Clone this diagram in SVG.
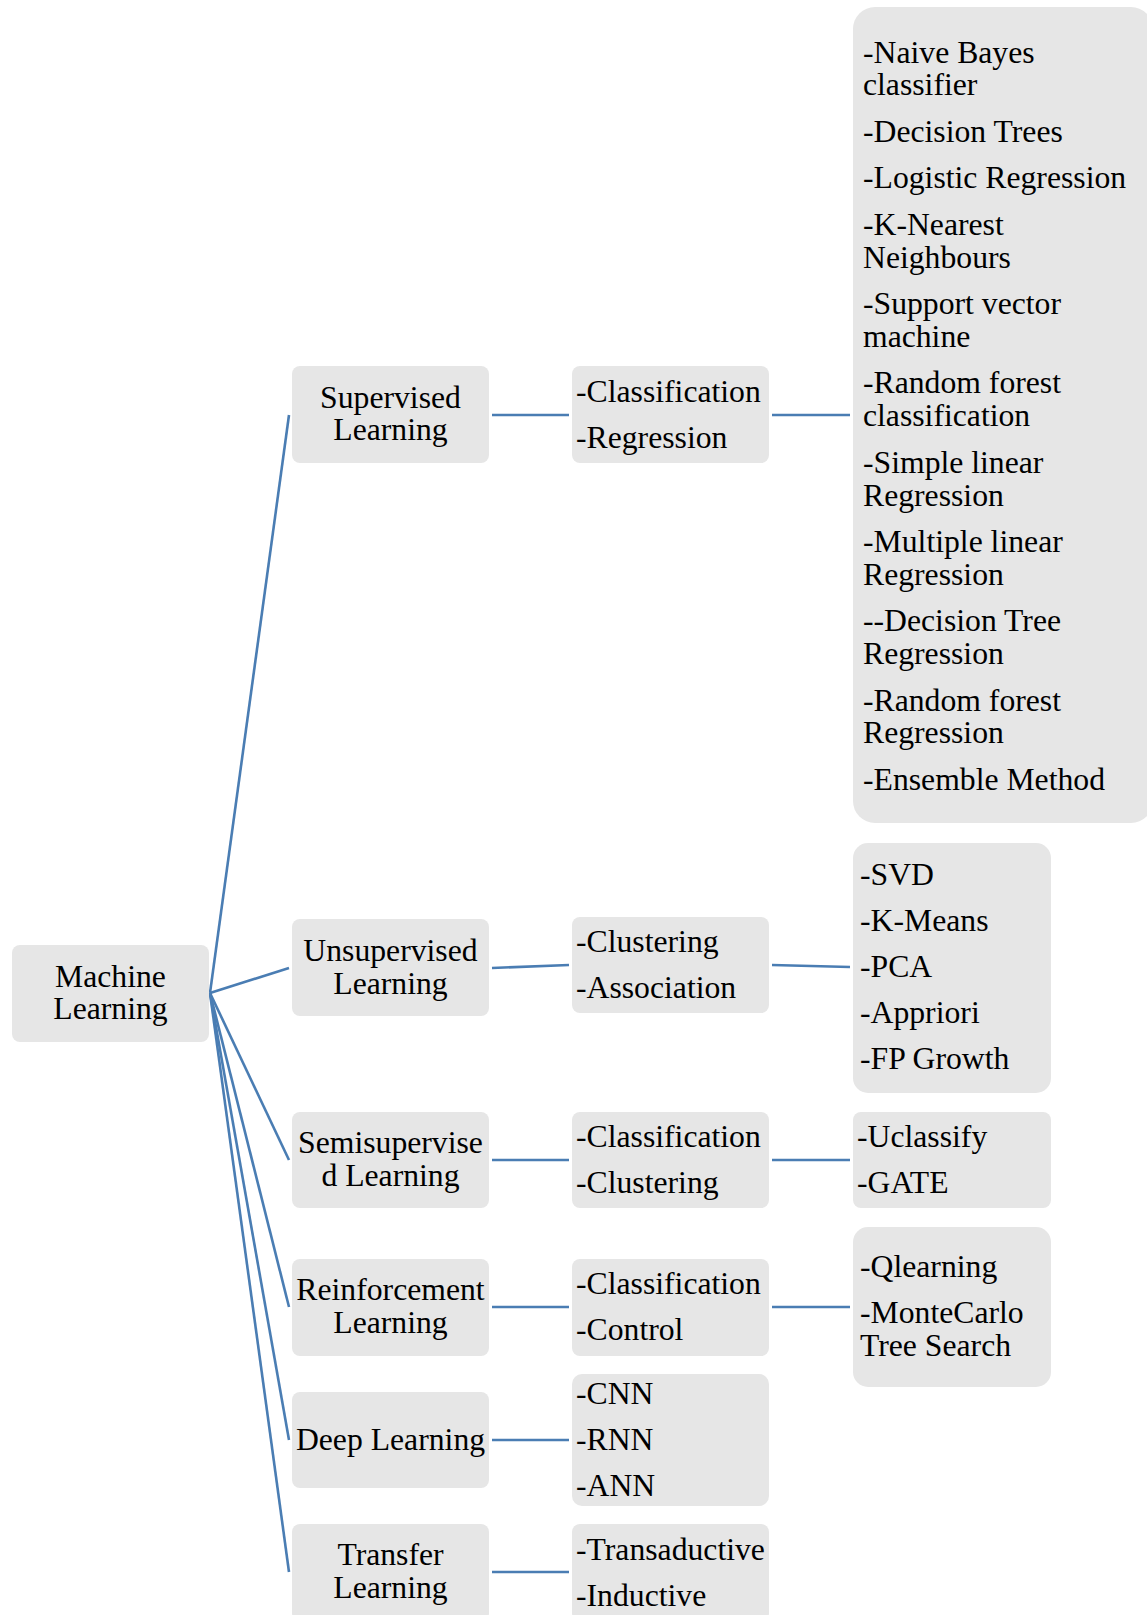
<svg xmlns="http://www.w3.org/2000/svg" width="1147" height="1615" viewBox="0 0 1147 1615">
<style>
.box{fill:#e6e6e6}
text{font-family:"Liberation Serif","Times New Roman",serif;font-size:31.7px;fill:#000}
.c{text-anchor:middle}
.ln{stroke:#4a7db3;stroke-width:2.6;fill:none}
</style>
<rect width="1147" height="1615" fill="#fff"/>
<g id="connectors">
<line class="ln" x1="210" y1="993" x2="289" y2="415"/>
<line class="ln" x1="210" y1="993" x2="289" y2="968"/>
<line class="ln" x1="210" y1="993" x2="289" y2="1160"/>
<line class="ln" x1="210" y1="993" x2="289" y2="1307"/>
<line class="ln" x1="210" y1="993" x2="289" y2="1440"/>
<line class="ln" x1="210" y1="993" x2="289" y2="1572"/>
<line class="ln" x1="492" y1="415" x2="569" y2="415"/>
<line class="ln" x1="492" y1="968" x2="569" y2="965"/>
<line class="ln" x1="492" y1="1160" x2="569" y2="1160"/>
<line class="ln" x1="492" y1="1307" x2="569" y2="1307"/>
<line class="ln" x1="492" y1="1440" x2="569" y2="1440"/>
<line class="ln" x1="492" y1="1572" x2="569" y2="1572"/>
<line class="ln" x1="772" y1="415" x2="850" y2="415"/>
<line class="ln" x1="772" y1="965" x2="850" y2="967"/>
<line class="ln" x1="772" y1="1160" x2="850" y2="1160"/>
<line class="ln" x1="772" y1="1307" x2="850" y2="1307"/>
</g>
<g id="ml">
<rect class="box" x="12" y="945" width="197" height="97" rx="8"/>
<text class="c" x="110.5" y="987">Machine</text>
<text class="c" x="110.5" y="1019">Learning</text>
</g>
<g id="supervised">
<rect class="box" x="292" y="366" width="197" height="97" rx="8"/>
<text class="c" x="390.5" y="407.5">Supervised</text>
<text class="c" x="390.5" y="440">Learning</text>
</g>
<g id="unsupervised">
<rect class="box" x="292" y="919" width="197" height="97" rx="8"/>
<text class="c" x="390.5" y="961">Unsupervised</text>
<text class="c" x="390.5" y="993.5">Learning</text>
</g>
<g id="semisupervised">
<rect class="box" x="292" y="1112" width="197" height="96" rx="8"/>
<text class="c" x="390.5" y="1153">Semisupervise</text>
<text class="c" x="390.5" y="1186">d Learning</text>
</g>
<g id="reinforcement">
<rect class="box" x="292" y="1259" width="197" height="97" rx="8"/>
<text class="c" x="390.5" y="1300">Reinforcement</text>
<text class="c" x="390.5" y="1333">Learning</text>
</g>
<g id="deep">
<rect class="box" x="292" y="1392" width="197" height="96" rx="8"/>
<text class="c" x="390.5" y="1450">Deep Learning</text>
</g>
<g id="transfer">
<rect class="box" x="292" y="1524" width="197" height="97" rx="8"/>
<text class="c" x="390.5" y="1565">Transfer</text>
<text class="c" x="390.5" y="1598">Learning</text>
</g>
<g id="sup-types">
<rect class="box" x="572" y="366" width="197" height="97" rx="8"/>
<text x="576" y="402">-Classification</text>
<text x="576" y="448">-Regression</text>
</g>
<g id="unsup-types">
<rect class="box" x="572" y="917" width="197" height="96" rx="8"/>
<text x="576" y="952">-Clustering</text>
<text x="576" y="998">-Association</text>
</g>
<g id="semi-types">
<rect class="box" x="572" y="1112" width="197" height="96" rx="8"/>
<text x="576" y="1147">-Classification</text>
<text x="576" y="1193">-Clustering</text>
</g>
<g id="rein-types">
<rect class="box" x="572" y="1259" width="197" height="97" rx="8"/>
<text x="576" y="1294">-Classification</text>
<text x="576" y="1340">-Control</text>
</g>
<g id="deep-types">
<rect class="box" x="572" y="1374" width="197" height="132" rx="10"/>
<text x="576" y="1404">-CNN</text>
<text x="576" y="1450">-RNN</text>
<text x="576" y="1496">-ANN</text>
</g>
<g id="transfer-types">
<rect class="box" x="572" y="1524" width="197" height="97" rx="8"/>
<text x="576" y="1560">-Transaductive</text>
<text x="576" y="1606">-Inductive</text>
</g>
<g id="sup-algos">
<rect class="box" x="853" y="7" width="300" height="816" rx="22"/>
<text x="863" y="62.5">-Naive Bayes</text>
<text x="863" y="95.3">classifier</text>
<text x="863" y="141.8">-Decision Trees</text>
<text x="863" y="188.3">-Logistic Regression</text>
<text x="863" y="234.8">-K-Nearest</text>
<text x="863" y="267.6">Neighbours</text>
<text x="863" y="314.1">-Support vector</text>
<text x="863" y="346.9">machine</text>
<text x="863" y="393.4">-Random forest</text>
<text x="863" y="426.2">classification</text>
<text x="863" y="472.7">-Simple linear</text>
<text x="863" y="505.5">Regression</text>
<text x="863" y="552">-Multiple linear</text>
<text x="863" y="584.8">Regression</text>
<text x="863" y="631.3">--Decision Tree</text>
<text x="863" y="664.1">Regression</text>
<text x="863" y="710.6">-Random forest</text>
<text x="863" y="743.4">Regression</text>
<text x="863" y="789.9">-Ensemble Method</text>
</g>
<g id="unsup-algos">
<rect class="box" x="853" y="843" width="198" height="250" rx="15"/>
<text x="860" y="885">-SVD</text>
<text x="860" y="931">-K-Means</text>
<text x="860" y="977">-PCA</text>
<text x="860" y="1023">-Appriori</text>
<text x="860" y="1069">-FP Growth</text>
</g>
<g id="semi-tools">
<rect class="box" x="853" y="1112" width="198" height="96" rx="8"/>
<text x="857" y="1147">-Uclassify</text>
<text x="857" y="1193">-GATE</text>
</g>
<g id="rein-algos">
<rect class="box" x="853" y="1227" width="198" height="160" rx="15"/>
<text x="860" y="1277">-Qlearning</text>
<text x="860" y="1323">-MonteCarlo</text>
<text x="860" y="1356">Tree Search</text>
</g>
</svg>
